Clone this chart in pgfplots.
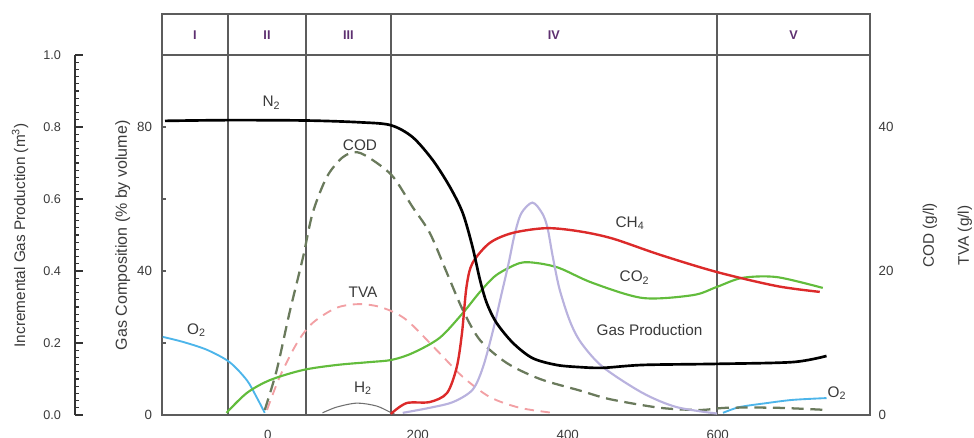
\documentclass[border=0pt]{standalone}
\usepackage{fontspec}
\setmainfont{Liberation Sans}
\usepackage{pgfplots}
\pgfplotsset{compat=1.18}
\definecolor{axgray}{HTML}{5C5C5C}
\definecolor{labgray}{HTML}{3A3A3A}
\definecolor{stagecol}{HTML}{5E3070}
\definecolor{ch4red}{HTML}{DC2A2A}
\definecolor{co2green}{HTML}{62BC3C}
\definecolor{gaslav}{HTML}{B9B2DE}
\definecolor{codgreen}{HTML}{6A7A5C}
\definecolor{tvapink}{HTML}{F2A0A4}
\definecolor{o2blue}{HTML}{4DB5EA}
\definecolor{h2gray}{HTML}{707070}
\begin{document}
\begin{tikzpicture}[x=1pt,y=1pt]
% ---------------- main axis (gas composition, % by volume) ----------------
\begin{axis}[
  at={(121.5pt,17.25pt)}, anchor=south west,
  scale only axis, width=531pt, height=270pt,
  xmin=-141, xmax=803, ymin=0, ymax=100,
  clip=false,
  axis line style={axgray, line width=1.2pt},
  xtick={0,200,400,600}, xtick pos=bottom,
  major x tick style={draw=none},
  ytick={0,20,...,100}, yticklabels={0,,40,,80,}, ytick pos=left,
  tick align=inside, major tick length=3pt,
  y tick style={axgray, line width=0.8pt},
  /pgf/number format/assume math mode=true,
  ticklabel style={font=\fontsize{10}{11}\selectfont, text=labgray},
  yticklabel style={xshift=-4pt},
  xticklabel style={yshift=-8pt},
  every axis plot/.append style={smooth},
]
% header box and phase lines
\draw[axgray, line width=1.2pt] (rel axis cs:0,1) -- (rel axis cs:0,1.1139) -- (rel axis cs:1,1.1139) -- (rel axis cs:1,1);
\pgfplotsinvokeforeach{-53,51,164,599}{
  \draw[axgray, line width=1.2pt] (axis cs:#1,0) -- (axis cs:#1,111.39);
}
\tikzset{stage/.style={text=stagecol, font=\fontsize{9.5}{10}\selectfont\bfseries}}
\node[stage] at (axis cs:-97,105.56) {I};
\node[stage] at (axis cs:-1,105.56) {II};
\node[stage] at (axis cs:107.5,105.56) {III};
\node[stage] at (axis cs:381.5,105.56) {IV};
\node[stage] at (axis cs:701,105.56) {V};

% O2 (left)
\addplot[o2blue, line width=1.4pt] coordinates {
 (-140,21.7) (-113,20.3) (-81,18.1) (-51,14.7) (-28,9.7) (-15,5) (-4,0.6)};
% O2 (right)
\addplot[o2blue, line width=1.4pt] coordinates {
 (607,0.6) (629,2.2) (665,3.3) (700,4.2) (745,4.7)};
% H2
\addplot[h2gray, line width=0.8pt] coordinates {
 (73,0.6) (92,2.2) (119,3.3) (145,2.5) (163,0.8) (169,0.3)};
% TVA (g/l, right axis: doubled to % scale)
\addplot[tvapink, line width=1.4pt, dash pattern=on 7pt off 5pt, y filter/.expression={2*y}] coordinates {
 (-1,0.7) (16,5.3) (39,10) (60,12.8) (92,14.9) (123,15.4) (153,14.9) (185,13.2) (229,8.6) (260,5.3) (296,2.5) (336,1.0) (380,0.3)};
% COD (g/l)
\addplot[codgreen, line width=1.7pt, dash pattern=on 9pt off 5pt, y filter/.expression={2*y}] coordinates {
 (-4,0.7) (12,6.25) (29,14.2) (47,21.9) (60,28.1) (79,33.1) (100,35.8) (119,36.5) (140,35.4) (167,33.1) (193,28.9) (216,25.3) (239,19.7) (260,14.6) (283,10.4) (319,7.2) (363,5.0) (416,3.4) (456,2.2) (523,1.0) (576,0.7) (612,1.0) (679,1.0) (745,0.7)};
% CO2
\addplot[co2green, line width=1.6pt] coordinates {
 (-55,0.6) (-28,6.1) (3,9.7) (47,12.5) (92,13.9) (136,14.7) (165,15.3) (193,17.2) (229,21.4) (260,28.3) (283,34.2) (305,38.9) (336,42.2) (359,42.2) (389,40.8) (433,36.7) (500,32.5) (567,33.3) (599,35.6) (633,38.1) (679,38.3) (740,35.3)};
% Gas production (m^3, far-left axis: x100 to % scale)
\addplot[gaslav, line width=1.6pt, y filter/.expression={100*y}] coordinates {
 (180,0.006) (216,0.02) (247,0.036) (273,0.07) (287,0.133) (301,0.24) (311,0.33) (321,0.42) (329,0.50) (338,0.56) (353,0.59) (366,0.56) (373,0.52) (380,0.44) (389,0.35) (403,0.26) (418,0.2) (447,0.133) (500,0.061) (545,0.022) (599,0.004)};
% CH4
\addplot[ch4red, line width=1.8pt] coordinates {
 (164,0.3) (185,3.3) (216,3.6) (239,6.1) (252,13.3) (259,22.8) (265,35.6) (273,42.2) (296,47.8) (327,50.6) (372,51.9) (416,51) (460,49) (523,44.5) (599,39.7) (679,35.8) (736,34.2)};
% N2
\addplot[black, line width=2pt] coordinates {
 (-137,81.7) (-53,81.9) (51,81.8) (123,81.3) (164,80.5) (193,77.2) (220,70.8) (243,63.3) (260,56.1) (273,46.7) (283,37.5) (292,31.1) (305,25.6) (327,20) (353,15.8) (385,13.9) (416,13.3) (447,13.1) (500,13.9) (599,14.2) (700,14.7) (745,16.4)};

% curve labels
\tikzset{clab/.style={text=labgray, font=\fontsize{11.5}{13}\selectfont}}
\node[clab] at (axis cs:5,86.7) {N\textsubscript{2}};
\node[clab] at (axis cs:123,75) {COD};
\node[clab] at (axis cs:127,34.2) {TVA};
\node[clab] at (axis cs:127,7.5) {H\textsubscript{2}};
\node[clab] at (axis cs:-95,23.6) {O\textsubscript{2}};
\node[clab] at (axis cs:483,53.3) {CH\textsubscript{4}};
\node[clab] at (axis cs:489,38.1) {CO\textsubscript{2}};
\node[clab] at (axis cs:509,23.6) {Gas Production};
\node[clab] at (axis cs:759,6.1) {O\textsubscript{2}};
\end{axis}

% ---------------- right axis (COD, TVA in g/l) ----------------
\begin{axis}[
  at={(121.5pt,17.25pt)}, anchor=south west,
  scale only axis, width=531pt, height=270pt,
  xmin=-141, xmax=803, ymin=0, ymax=50,
  hide x axis, axis y line*=right,
  y axis line style={draw=none},
  ytick={0,20,40}, y tick style={draw=none},
  /pgf/number format/assume math mode=true,
  ticklabel style={font=\fontsize{10}{11}\selectfont, text=labgray},
  yticklabel style={xshift=3pt},
]
\end{axis}

% ---------------- far-left axis (incremental gas production) ----------------
\begin{axis}[
  at={(56.25pt,17.25pt)}, anchor=south west,
  scale only axis, width=10pt, height=270pt,
  xmin=0, xmax=1, ymin=0, ymax=1,
  hide x axis, axis y line*=left,
  y axis line style={black!80, line width=1.1pt},
  ytick={0,0.2,...,1.0}, minor y tick num=9,
  tick align=inside,
  major tick length=6pt, minor tick length=3pt,
  y tick style={black!80, line width=1pt},
  minor y tick style={black!80, line width=0.8pt},
  /pgf/number format/assume math mode=true,
  /pgf/number format/fixed, /pgf/number format/fixed zerofill, /pgf/number format/precision=1,
  ticklabel style={font=\fontsize{9.5}{11}\selectfont, text=labgray},
  yticklabel style={xshift=-7pt},
]
\end{axis}

% axis titles
\node[rotate=90, text=labgray, font=\fontsize{11.5}{13}\selectfont] at (15pt,152pt) {Incremental Gas Production (m\textsuperscript{3})};
\node[rotate=90, text=labgray, font=\fontsize{12}{13}\selectfont] at (92pt,152pt) {Gas Composition (\% by volume)};
\node[rotate=90, text=labgray, font=\fontsize{11.5}{13}\selectfont] at (697.5pt,152pt) {COD (g/l)};
\node[rotate=90, text=labgray, font=\fontsize{11.5}{13}\selectfont] at (723.75pt,152pt) {TVA (g/l)};

\pgfresetboundingbox
\useasboundingbox (0,0) rectangle (730.5pt,328.5pt);
\end{tikzpicture}
\end{document}
